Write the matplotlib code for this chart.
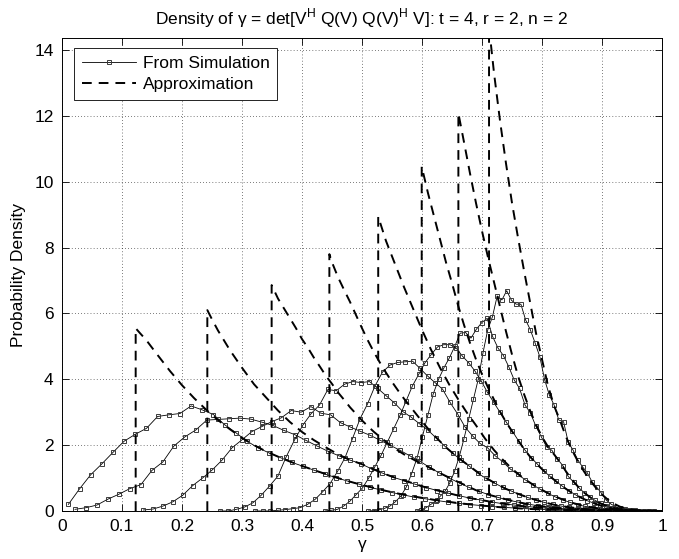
import numpy as np
import matplotlib
matplotlib.use("Agg")
import matplotlib.pyplot as plt

plt.rcParams['font.family'] = ['Liberation Sans', 'DejaVu Sans']
plt.rcParams['mathtext.fontset'] = 'custom'
plt.rcParams['mathtext.rm'] = 'Liberation Sans'

# ---------------- data ----------------
# simulation histograms: first bin centre, last bin centre, densities
sim1_range = (0.0106, 0.9406)
sim1_y = [0.20, 0.67, 1.10, 1.43, 1.78, 2.12, 2.33, 2.51, 2.87, 2.92,
          2.96, 3.19, 3.07, 2.93, 2.62, 2.38, 2.12, 1.92, 1.76, 1.62,
          1.48, 1.36, 1.24, 1.12, 1.01, 0.91, 0.82, 0.72, 0.64, 0.56,
          0.49, 0.42, 0.37, 0.32, 0.27, 0.23, 0.195, 0.165, 0.135, 0.11,
          0.09, 0.07, 0.055, 0.04, 0.03, 0.02, 0.015, 0.01, 0.006, 0.004,
          0.002]
sim2_range = (0.0217, 0.9367)
sim2_y = [0.05, 0.10, 0.18, 0.36, 0.51, 0.68, 0.80, 1.23, 1.49, 1.97,
          2.25, 2.46, 2.76, 2.78, 2.80, 2.82, 2.79, 2.70, 2.60, 2.45,
          2.32, 2.15, 1.98, 1.82, 1.68, 1.55, 1.44, 1.28, 1.15, 1.02,
          0.92, 0.81, 0.71, 0.62, 0.54, 0.46, 0.39, 0.33, 0.27, 0.22,
          0.18, 0.14, 0.11, 0.085, 0.06, 0.045, 0.03, 0.02, 0.012, 0.007,
          0.003]
sim3_range = (0.1356, 0.957)
sim3_y = [0.03, 0.06, 0.15, 0.28, 0.48, 0.77, 1.00, 1.25, 1.55, 1.92,
          2.16, 2.41, 2.56, 2.71, 2.83, 3.05, 3.00, 3.17, 2.97, 2.92,
          2.68, 2.55, 2.42, 2.30, 2.15, 2.00, 1.85, 1.68, 1.52, 1.33,
          1.16, 1.00, 0.86, 0.72, 0.60, 0.50, 0.41, 0.33, 0.27, 0.21,
          0.16, 0.12, 0.09, 0.065, 0.045, 0.03, 0.02, 0.012, 0.007, 0.003,
          0.001]
sim4_range = (0.2628, 0.9563)
sim4_y = [0.0, 0.0, 0.05, 0.12, 0.25, 0.48, 0.76, 1.06, 1.65, 2.16,
          2.61, 2.96, 3.22, 3.69, 3.65, 3.85, 3.93, 3.90, 3.93, 3.72,
          3.50, 3.28, 3.02, 2.85, 2.65, 2.46, 2.22, 1.98, 1.75, 1.55,
          1.36, 1.15, 0.99, 0.85, 0.72, 0.61, 0.50, 0.41, 0.33, 0.26,
          0.20, 0.15, 0.11, 0.08, 0.055, 0.035, 0.022, 0.012, 0.006, 0.003,
          0.001]
sim5_range = (0.3217, 0.9467)
sim5_y = [0.0, 0.0, 0.0, 0.02, 0.04, 0.07, 0.10, 0.20, 0.35, 0.58,
          0.83, 1.20, 1.62, 2.20, 2.80, 3.25, 3.80, 4.22, 4.43, 4.51,
          4.53, 4.55, 4.33, 4.10, 3.90, 3.70, 3.30, 2.95, 2.55, 2.28,
          2.05, 1.92, 1.68, 1.50, 1.28, 1.12, 0.95, 0.80, 0.66, 0.54,
          0.43, 0.34, 0.26, 0.19, 0.14, 0.10, 0.07, 0.045, 0.025, 0.012,
          0.005]
sim6_range = (0.4383, 0.959)
sim6_y = [0.0, 0.02, 0.05, 0.15, 0.30, 0.50, 0.70, 1.00, 1.35, 1.70,
          2.10, 2.50, 2.90, 3.35, 3.80, 4.15, 4.50, 4.75, 4.98, 5.05,
          5.05, 4.95, 4.70, 4.50, 4.25, 3.95, 3.60, 3.30, 3.00, 2.70,
          2.42, 2.12, 1.85, 1.62, 1.42, 1.22, 1.05, 0.90, 0.75, 0.62,
          0.50, 0.40, 0.31, 0.24, 0.17, 0.12, 0.08, 0.05, 0.03, 0.015,
          0.005]
sim7_range = (0.5106, 0.9606)
sim7_y = [0.0, 0.01, 0.04, 0.08, 0.15, 0.28, 0.45, 0.72, 1.13, 1.60,
          2.25, 2.90, 3.55, 4.00, 4.35, 4.65, 5.00, 5.40, 5.42, 5.25,
          5.52, 5.72, 5.85, 5.30, 4.95, 4.72, 4.38, 3.98, 3.72, 3.22,
          2.98, 2.58, 2.26, 1.95, 1.84, 1.58, 1.38, 1.05, 0.88, 0.70,
          0.55, 0.42, 0.32, 0.23, 0.16, 0.10, 0.06, 0.035, 0.02, 0.01,
          0.003]
sim8_range = (0.591, 0.986)
sim8_y = [0.0, 0.02, 0.10, 0.20, 0.30, 0.45, 0.60, 0.85, 1.20, 1.65,
          2.20, 2.80, 3.40, 4.00, 4.80, 5.50, 5.90, 6.53, 6.41, 6.69,
          6.40, 6.28, 6.28, 5.80, 5.50, 5.10, 4.68, 3.99, 3.52, 3.22,
          2.76, 2.71, 2.08, 1.85, 1.55, 1.34, 1.16, 0.89, 0.72, 0.54,
          0.33, 0.21, 0.13, 0.08, 0.05, 0.03, 0.02, 0.01, 0.005, 0.002,
          0.0]

# approximations (dashed)
apx1_x = [0.1228, 0.1228, 0.13, 0.14, 0.16, 0.18, 0.20, 0.22, 0.24, 0.26, 0.28, 0.30,
          0.32, 0.34, 0.36, 0.38, 0.40, 0.42, 0.44, 0.46, 0.48, 0.50, 0.52, 0.54,
          0.56, 0.58, 0.60, 0.62, 0.64, 0.66, 0.68, 0.70, 0.72, 0.74, 0.76, 0.78,
          0.80, 0.84, 0.88, 0.92, 0.96, 1.0]
apx1_y = [0, 5.55, 5.40, 5.20, 4.72, 4.25, 3.82, 3.43, 3.08, 2.76, 2.48, 2.22,
          2.00, 1.81, 1.65, 1.50, 1.37, 1.24, 1.12, 1.00, 0.89, 0.79, 0.70, 0.61,
          0.53, 0.46, 0.40, 0.34, 0.29, 0.24, 0.20, 0.165, 0.13, 0.10, 0.08, 0.06,
          0.045, 0.025, 0.012, 0.005, 0.001, 0.0]
apx2_x = [0.2422, 0.2422, 0.25, 0.26, 0.28, 0.30, 0.32, 0.34, 0.36, 0.38, 0.40, 0.42,
          0.44, 0.46, 0.48, 0.50, 0.52, 0.54, 0.56, 0.58, 0.60, 0.62, 0.64, 0.66,
          0.68, 0.70, 0.72, 0.74, 0.76, 0.78, 0.80, 0.82, 0.84, 0.86, 0.88, 0.90,
          0.93, 0.96, 1.0]
apx2_y = [0, 6.10, 5.82, 5.48, 4.88, 4.35, 3.85, 3.45, 3.05, 2.70, 2.40, 2.15,
          1.93, 1.72, 1.55, 1.42, 1.26, 1.11, 0.98, 0.87, 0.75, 0.65, 0.56, 0.47,
          0.39, 0.33, 0.26, 0.21, 0.16, 0.125, 0.095, 0.07, 0.05, 0.033, 0.02, 0.012,
          0.005, 0.001, 0.0]
apx3_x = [0.3494, 0.3494, 0.36, 0.37, 0.38, 0.39, 0.40, 0.41, 0.42, 0.43, 0.44, 0.45,
          0.46, 0.47, 0.48, 0.49, 0.50, 0.51, 0.52, 0.53, 0.54, 0.55, 0.57, 0.59,
          0.61, 0.63, 0.65, 0.67, 0.69, 0.71, 0.73, 0.75, 0.77, 0.79, 0.81, 0.83,
          0.85, 0.87, 0.89, 0.92, 0.96, 1.0]
apx3_y = [0, 6.86, 6.45, 6.15, 5.85, 5.55, 5.22, 4.95, 4.65, 4.38, 4.10, 3.86,
          3.60, 3.38, 3.15, 2.95, 2.75, 2.57, 2.40, 2.25, 2.10, 1.95, 1.72, 1.52,
          1.34, 1.15, 0.97, 0.80, 0.63, 0.50, 0.40, 0.31, 0.23, 0.17, 0.12, 0.085,
          0.055, 0.035, 0.02, 0.008, 0.002, 0.0]
apx4_x = [0.4456, 0.4456, 0.45, 0.46, 0.47, 0.48, 0.49, 0.50, 0.51, 0.52, 0.53, 0.54,
          0.55, 0.56, 0.57, 0.58, 0.59, 0.60, 0.61, 0.62, 0.64, 0.66, 0.68, 0.70,
          0.72, 0.74, 0.76, 0.78, 0.80, 0.82, 0.84, 0.86, 0.88, 0.90, 0.92, 0.95, 1.0]
apx4_y = [0, 7.80, 7.55, 7.10, 6.72, 6.35, 5.95, 5.55, 5.17, 4.82, 4.50, 4.20,
          3.92, 3.66, 3.41, 3.18, 2.95, 2.72, 2.50, 2.30, 1.93, 1.62, 1.35, 1.08,
          0.86, 0.67, 0.52, 0.39, 0.28, 0.19, 0.13, 0.08, 0.045, 0.023, 0.01, 0.003, 0.0]
apx5_x = [0.527, 0.527, 0.54, 0.555, 0.57, 0.585, 0.60, 0.615, 0.63, 0.645, 0.66, 0.675,
          0.69, 0.705, 0.72, 0.735, 0.75, 0.77, 0.79, 0.81, 0.83, 0.85, 0.87, 0.89,
          0.91, 0.93, 0.96, 1.0]
apx5_y = [0, 8.94, 8.20, 7.50, 6.80, 6.15, 5.50, 4.90, 4.35, 3.85, 3.40, 2.98,
          2.60, 2.20, 1.85, 1.55, 1.28, 0.98, 0.74, 0.54, 0.38, 0.25, 0.15, 0.09,
          0.05, 0.02, 0.005, 0.0]
apx6_x = [0.5995, 0.5995, 0.61, 0.62, 0.63, 0.64, 0.65, 0.66, 0.67, 0.68, 0.69, 0.70,
          0.71, 0.72, 0.73, 0.74, 0.75, 0.76, 0.77, 0.78, 0.79, 0.80, 0.81, 0.82,
          0.83, 0.84, 0.85, 0.86, 0.87, 0.88, 0.89, 0.90, 0.91, 0.92, 0.93, 0.94,
          0.96, 1.0]
apx6_y = [0, 10.46, 9.65, 8.95, 8.25, 7.55, 6.92, 6.25, 5.65, 5.10, 4.60, 4.15,
          3.75, 3.38, 3.02, 2.70, 2.42, 2.15, 1.88, 1.65, 1.45, 1.27, 1.10, 0.95,
          0.80, 0.67, 0.55, 0.45, 0.36, 0.28, 0.21, 0.15, 0.10, 0.07, 0.04, 0.025,
          0.008, 0.0]
apx7_x = [0.6606, 0.6606, 0.67, 0.68, 0.69, 0.70, 0.71, 0.72, 0.73, 0.74, 0.75, 0.76,
          0.77, 0.78, 0.79, 0.80, 0.81, 0.82, 0.83, 0.84, 0.85, 0.86, 0.87, 0.88,
          0.89, 0.90, 0.91, 0.92, 0.93, 0.94, 0.96, 1.0]
apx7_y = [0, 12.08, 11.20, 10.25, 9.35, 8.50, 7.70, 6.95, 6.20, 5.45, 4.75, 4.10,
          3.55, 3.05, 2.62, 2.25, 1.95, 1.72, 1.48, 1.20, 0.95, 0.74, 0.56, 0.42,
          0.30, 0.21, 0.14, 0.09, 0.05, 0.03, 0.01, 0.0]
apx8_x = [0.7117, 0.7117, 0.72, 0.73, 0.74, 0.75, 0.76, 0.77, 0.78, 0.79, 0.80, 0.81,
          0.82, 0.83, 0.84, 0.85, 0.86, 0.87, 0.88, 0.89, 0.90, 0.91, 0.92, 0.93,
          0.94, 0.95, 0.96, 0.98, 1.0]
apx8_y = [0, 14.70, 13.30, 11.85, 10.55, 9.35, 8.30, 7.30, 6.35, 5.40, 4.60, 3.80,
          3.20, 2.75, 2.25, 1.85, 1.50, 1.20, 0.93, 0.70, 0.50, 0.34, 0.22, 0.13,
          0.08, 0.04, 0.02, 0.005, 0.0]

x_ticks = [0, 0.1, 0.2, 0.3, 0.4, 0.5, 0.6, 0.7, 0.8, 0.9, 1]
x_tick_labels = ['0', '0.1', '0.2', '0.3', '0.4', '0.5', '0.6', '0.7', '0.8', '0.9', '1']
y_ticks = [0, 2, 4, 6, 8, 10, 12, 14]

sims = [(sim1_range, sim1_y), (sim2_range, sim2_y), (sim3_range, sim3_y),
        (sim4_range, sim4_y), (sim5_range, sim5_y), (sim6_range, sim6_y),
        (sim7_range, sim7_y), (sim8_range, sim8_y)]
apxs = [(apx1_x, apx1_y), (apx2_x, apx2_y), (apx3_x, apx3_y), (apx4_x, apx4_y),
        (apx5_x, apx5_y), (apx6_x, apx6_y), (apx7_x, apx7_y), (apx8_x, apx8_y)]

# ---------------- figure ----------------
fig = plt.figure(figsize=(6.79, 5.59), dpi=100)
ax = fig.add_axes([0.0913, 0.0859, 0.8837, 0.8456])

sim_handle = None
for (a, b), y in sims:
    x = np.linspace(a, b, len(y))
    h, = ax.plot(x, y, '-', color='k', lw=0.6, marker='s', ms=3.2,
                 mfc='none', mec='#3a3a3a', mew=0.7)
    if sim_handle is None:
        sim_handle = h

apx_handle = None
for x, y in apxs:
    h, = ax.plot(x, y, color='k', lw=1.4, dashes=(5, 3.6))
    if apx_handle is None:
        apx_handle = h

ax.set_xlim(0, 1)
ax.set_ylim(0, 14.355)
ax.set_xticks(x_ticks)
ax.set_xticklabels(x_tick_labels)
ax.set_yticks(y_ticks)
ax.grid(True, linestyle=(0, (1, 3.5)), color='k', lw=0.5)
ax.tick_params(direction='in', top=True, right=True, length=5, width=0.6,
               labelsize=12.5, pad=6)
for s in ax.spines.values():
    s.set_linewidth(0.7)

ax.set_title('Density of γ = det[V$^{\\mathregular{H}}$ Q(V) Q(V)$^{\\mathregular{H}}$ V]: t = 4, r = 2, n = 2',
             fontsize=12.5, pad=10)
ax.set_xlabel('γ', fontsize=12.5, labelpad=2)
ax.set_ylabel('Probability Density', fontsize=12.5, labelpad=6)

leg = ax.legend([sim_handle, apx_handle], ['From Simulation', 'Approximation'],
                loc='upper left', bbox_to_anchor=(0.02, 0.979), borderaxespad=0,
                fancybox=False, edgecolor='k', framealpha=1, handlelength=3.1,
                fontsize=12.5, borderpad=0.45, labelspacing=0.35, handletextpad=0.4)
leg.get_frame().set_linewidth(0.6)

fig.savefig('out.png', dpi=100)
